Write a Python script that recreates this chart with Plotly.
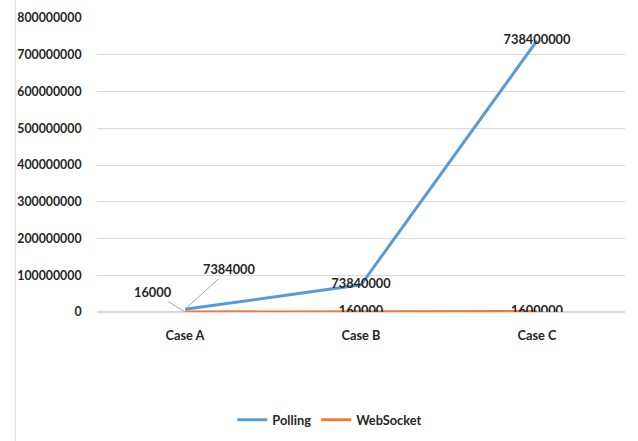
import plotly.graph_objects as go

categories = ["Case A", "Case B", "Case C"]
polling = [7384000, 73840000, 738400000]
websocket = [16000, 160000, 1600000]
y_ticks = [0, 100000000, 200000000, 300000000, 400000000, 500000000, 600000000, 700000000, 800000000]

FONT = "Lato"
BLUE = "#5B9BD5"
ORANGE = "#ED7D31"
TXT = "#262626"
FS = 12.8
FS_Y = 12.3

poll_text = [""] + [str(v) for v in polling[1:]]
ws_text = [""] + [str(v) for v in websocket[1:]]

fig = go.Figure()
fig.add_trace(go.Scatter(
    x=categories, y=polling, name="Polling", mode="lines+text",
    line=dict(color=BLUE, width=3), text=poll_text, textposition="middle center",
    textfont=dict(family=FONT, size=FS, color=TXT, weight="bold"),
))
fig.add_trace(go.Scatter(
    x=categories, y=websocket, name="WebSocket", mode="lines+text",
    line=dict(color=ORANGE, width=3), text=ws_text, textposition="middle center",
    textfont=dict(family=FONT, size=FS, color=TXT, weight="bold"),
))

# Case A labels with leader lines
fig.add_annotation(x=categories[0], y=polling[0], text=str(polling[0]), showarrow=True,
                   arrowhead=0, arrowwidth=1, arrowcolor="#A6A6A6", ax=44, ay=-40, standoff=0,
                   font=dict(family=FONT, size=FS, color=TXT, weight="bold"))
fig.add_annotation(x=categories[0], y=websocket[0], text=str(websocket[0]), showarrow=True,
                   arrowhead=0, arrowwidth=1, arrowcolor="#A6A6A6", ax=-32, ay=-20, standoff=0,
                   font=dict(family=FONT, size=FS, color=TXT, weight="bold"))

# chart area border on left
fig.add_shape(type="line", xref="paper", yref="paper", x0=-0.155, x1=-0.155, y0=-0.44, y1=1.07,
              line=dict(color="#D9D9D9", width=1))

fig.update_layout(
    width=638, height=441,
    margin=dict(l=97, r=13, t=18, b=129, autoexpand=False),
    paper_bgcolor="white", plot_bgcolor="white",
    font=dict(family=FONT, size=FS, color=TXT),
    showlegend=True,
    legend=dict(orientation="h", xref="container", yref="container",
                x=0.517, xanchor="center", y=0.048, yanchor="middle",
                font=dict(family=FONT, size=FS, color=TXT, weight="bold"),
                itemwidth=30, tracegroupgap=0),
    xaxis=dict(type="category", range=[-0.5, 2.5], showgrid=False, showline=False, zeroline=False,
               ticks="outside", ticklen=12, tickcolor="rgba(0,0,0,0)",
               tickfont=dict(family=FONT, size=FS, color=TXT, weight="bold")),
    yaxis=dict(range=[0, 800000000], tickvals=y_ticks, tickformat=".0f",
               showgrid=True, gridcolor="#D9D9D9", gridwidth=1, zeroline=True, zerolinecolor="#D9D9D9",
               showline=False, ticks="outside", ticklen=12, tickcolor="rgba(0,0,0,0)",
               tickfont=dict(family=FONT, size=FS_Y, color=TXT, weight="bold")),
)

fig.write_html("out.html")
